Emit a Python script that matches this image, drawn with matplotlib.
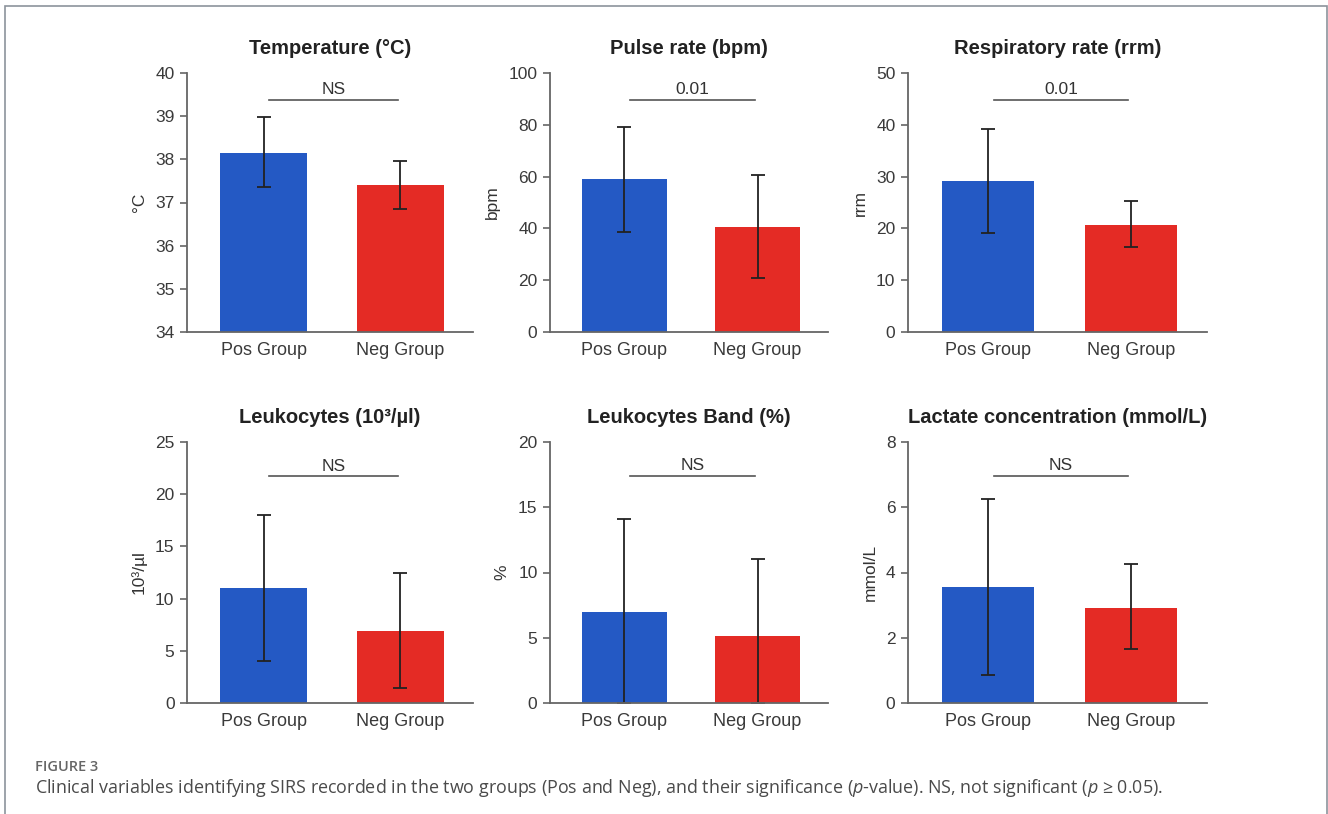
import matplotlib
matplotlib.use("Agg")
import matplotlib.pyplot as plt
from matplotlib.patches import Rectangle

plt.rcParams["font.family"] = ["Liberation Sans", "DejaVu Sans"]
plt.rcParams["mathtext.fontset"] = "custom"
plt.rcParams["mathtext.rm"] = "Open Sans"
plt.rcParams["mathtext.it"] = "Open Sans:italic"

groups = ["Pos Group", "Neg Group"]
titles = ["Temperature (°C)", "Pulse rate (bpm)", "Respiratory rate (rrm)",
          "Leukocytes (10³/µl)", "Leukocytes Band (%)", "Lactate concentration (mmol/L)"]
ylabels = ["°C", "bpm", "rrm", "10³/µl", "%", "mmol/L"]
ylims = [(34, 40), (0, 100), (0, 50), (0, 25), (0, 20), (0, 8)]
ysteps = [1, 20, 10, 5, 5, 2]

# bar means and error bar extents (lower, upper)
means = [[38.15, 37.40], [59.0, 40.5], [29.2, 20.7], [11.0, 6.9], [7.0, 5.1], [3.55, 2.92]]
err_lo = [[0.80, 0.55], [20.5, 19.5], [10.0, 4.3], [7.0, 5.5], [7.0, 5.1], [2.70, 1.27]]
err_hi = [[0.82, 0.55], [20.0, 20.0], [10.0, 4.5], [7.0, 5.6], [7.1, 5.9], [2.70, 1.33]]

sig_text = ["NS", "0.01", "0.01", "NS", "NS", "NS"]
sig_y = [39.38, 89.6, 44.8, 21.7, 17.4, 6.95]

caption_head = "FIGURE 3"
caption = ("Clinical variables identifying SIRS recorded in the two groups (Pos and Neg), "
           "and their significance ($\\mathit{p}$-value). NS, not significant "
           "($\\mathit{p}$ ≥ 0.05).")

BLUE = "#2459c4"
RED = "#e42b25"
W, H = 1328, 814

fig = plt.figure(figsize=(W / 100, H / 100), dpi=100)

# panel boxes in pixels: (left, right) per column, (top, bottom) per row
cols = [(187, 473), (550, 828), (908, 1207)]
rows = [(73, 332), (442, 703)]

for i in range(6):
    r, c = divmod(i, 3)
    x0, x1 = cols[c]
    y0, y1 = rows[r]
    ax = fig.add_axes([x0 / W, 1 - y1 / H, (x1 - x0) / W, (y1 - y0) / H])
    ax.bar([0, 1], means[i], width=0.64, color=[BLUE, RED], zorder=1)
    ax.errorbar([0, 1], means[i], yerr=[err_lo[i], err_hi[i]], fmt="none",
                ecolor="#222222", elinewidth=1.3, capsize=5, capthick=1.3, zorder=2)
    lo, hi = ylims[i]
    ax.set_ylim(lo, hi)
    ax.set_xlim(-0.56, 1.53)
    ticks = [lo + k * ysteps[i] for k in range(int((hi - lo) / ysteps[i]) + 1)]
    ax.set_yticks(ticks)
    ax.set_xticks([0, 1])
    ax.set_xticklabels(groups)
    for s in ["top", "right"]:
        ax.spines[s].set_visible(False)
    for s in ["left", "bottom"]:
        ax.spines[s].set_color("#666666")
        ax.spines[s].set_linewidth(1.3)
    ax.tick_params(axis="y", length=5, width=1.2, color="#666666",
                   labelsize=12.5, labelcolor="#3a3a3a", pad=4)
    ax.tick_params(axis="x", length=0, labelsize=13, labelcolor="#3a3a3a", pad=7)
    ax.set_ylabel(ylabels[i], fontsize=12.5, color="#333333", labelpad=6)
    ax.set_title(titles[i], fontsize=14.5, fontweight="bold", color="#222222", pad=14)
    ax.plot([0.04, 0.98], [sig_y[i]] * 2, color="#555555", lw=1.2, clip_on=False)
    ax.annotate(sig_text[i], (0.51, sig_y[i]), xytext=(0, 2), textcoords="offset points",
                ha="center", va="bottom", fontsize=12.5, color="#333333")

# frame around figure
fig.add_artist(Rectangle((5 / W, -0.05), (1322) / W, 1.05 - 6 / H,
                         transform=fig.transFigure, fill=False,
                         edgecolor="#8c939c", lw=1.2))

fig.text(35 / W, 1 - 767 / H, caption_head, fontsize=10.5, color="#666666",
         family=["Open Sans", "DejaVu Sans"], fontweight="semibold", va="center")
fig.text(35 / W, 1 - 788 / H, caption, fontsize=12.9, color="#4a4a4a",
         family=["Open Sans", "DejaVu Sans"], va="center")

fig.savefig("out.png", dpi=100)
